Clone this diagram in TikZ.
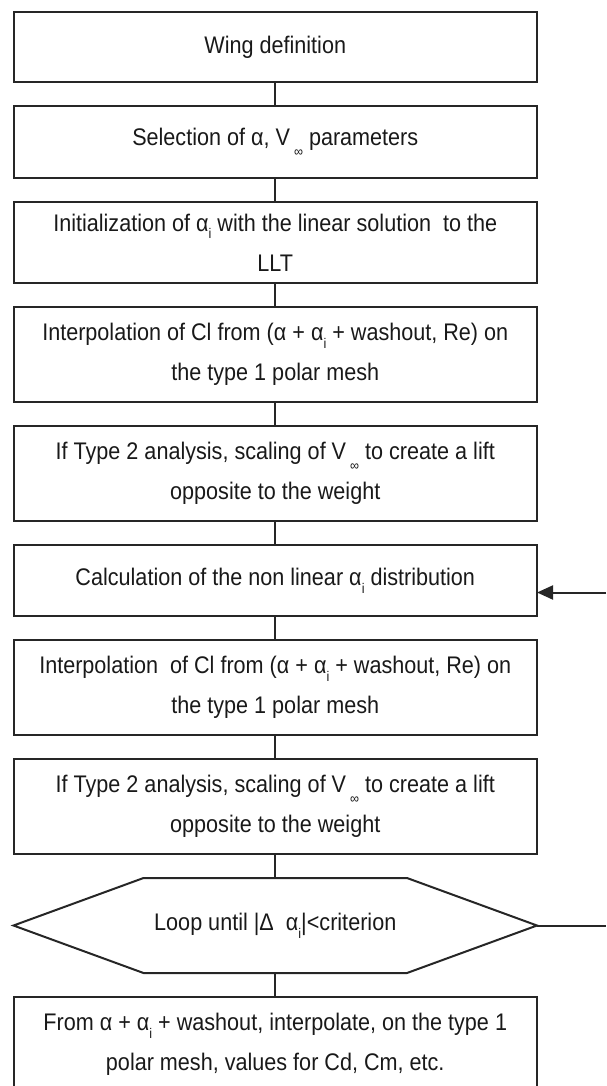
\documentclass[tikz,border=0pt]{standalone}
\usepackage{fontspec}
\setmainfont[FakeStretch=0.9]{Liberation Sans}
\usetikzlibrary{positioning,arrows.meta}
\newcommand{\idxi}{\raisebox{-0.6ex}{\scriptsize i}}
\newcommand{\idxinf}{\,\raisebox{-0.85ex}{\scriptsize ∞}}

\begin{document}
\begin{tikzpicture}[
        x=0.5pt, y=0.5pt,
        node distance=12pt,
        every node/.style={font=\fontsize{12}{20}\selectfont, text=black!90, outer sep=0pt},
        stepbox/.style={draw=black!85, line width=1pt, minimum width=261.75pt, align=center, inner sep=2pt},
        link/.style={draw=black!85, line width=1pt}
    ]
        \useasboundingbox (0,0) rectangle (606,-1086);
        \clip (0,0) rectangle (606,-1086);
        \coordinate (edge) at (606,0);

        % Các khối chính
        \node [stepbox, minimum height=35pt, anchor=north] (wing) at (275.25,-12) {Wing definition};
        \node [stepbox, minimum height=36pt, below=of wing] (select) {Selection of α, V\idxinf{} parameters};
        \node [stepbox, minimum height=40.5pt, below=of select] (init) {Initialization of α\idxi{} with the linear solution\ \ to the\\LLT};
        \node [stepbox, minimum height=47.5pt, below=of init] (interp) {Interpolation of Cl from (α + α\idxi{} + washout, Re) on\\the type 1 polar mesh};
        \node [stepbox, minimum height=47.5pt, below=of interp] (scale) {If Type 2 analysis, scaling of V\idxinf{} to create a lift\\opposite to the weight};
        \node [stepbox, minimum height=35.5pt, below=of scale] (calc) {Calculation of the non linear α\idxi{} distribution};
        \node [stepbox, minimum height=47.5pt, below=of calc] (interpb) {Interpolation\ \ of Cl from (α + α\idxi{} + washout, Re) on\\the type 1 polar mesh};
        \node [stepbox, minimum height=47.5pt, below=of interpb] (scaleb) {If Type 2 analysis, scaling of V\idxinf{} to create a lift\\opposite to the weight};
        \node [minimum width=261.75pt, minimum height=47.5pt, inner sep=2pt, below=of scaleb] (loop) {Loop until |Δ\ \ α\idxi|<criterion};
        \node [stepbox, minimum height=47.5pt, below=of loop] (final) {From α + α\idxi{} + washout, interpolate, on the type 1\\polar mesh, values for Cd, Cm, etc.};

        % Khung lục giác
        \draw[link] (loop.west) -- ([xshift=65pt]loop.north west) -- ([xshift=-65pt]loop.north east)
            -- (loop.east) -- ([xshift=-65pt]loop.south east) -- ([xshift=65pt]loop.south west) -- cycle;

        % Nối các khối
        \draw[link] (wing) -- (select);
        \draw[link] (select) -- (init);
        \draw[link] (init) -- (interp);
        \draw[link] (interp) -- (scale);
        \draw[link] (scale) -- (calc);
        \draw[link] (calc) -- (interpb);
        \draw[link] (interpb) -- (scaleb);
        \draw[link] (scaleb) -- (loop);
        \draw[link] (loop) -- (final);

        % Vòng lặp
        \coordinate (back) at ([yshift=-6pt]calc.east);
        \draw[link] (loop.east) -- (loop.east -| edge);
        \draw[link, -{Triangle[length=8pt, width=7pt]}] (back -| edge) -- (back);
    \end{tikzpicture}
\end{document}
